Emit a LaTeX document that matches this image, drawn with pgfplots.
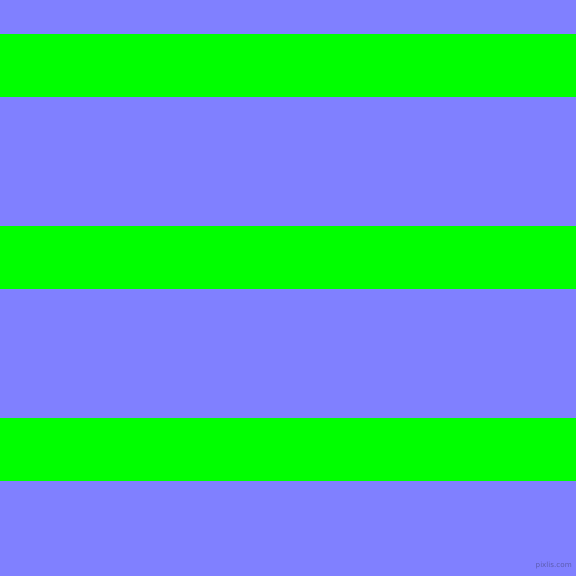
\documentclass[border=0pt]{standalone}
\usepackage{pgfplots}
\pgfplotsset{compat=1.18}
\usepackage{fontspec}
\setmainfont{DejaVu Sans}
\definecolor{bgblue}{HTML}{8080FF}
\definecolor{bandgreen}{HTML}{00FF00}
\definecolor{wmgray}{HTML}{5C5CB0}
\begin{document}
\begin{tikzpicture}
\begin{axis}[
  scale only axis,
  width=8in, height=8in,
  xmin=0, xmax=576, ymin=0, ymax=576,
  y dir=reverse,
  hide axis,
  clip=true,
]
% background
\addplot[draw=none, fill=bgblue] coordinates {(0,0) (576,0) (576,576) (0,576)} -- cycle;
% green bands (pixel rows)
\addplot[draw=none, fill=bandgreen] coordinates {(0,34) (576,34) (576,97) (0,97)} -- cycle;
\addplot[draw=none, fill=bandgreen] coordinates {(0,226) (576,226) (576,289) (0,289)} -- cycle;
\addplot[draw=none, fill=bandgreen] coordinates {(0,418) (576,418) (576,481) (0,481)} -- cycle;
% watermark
\node[anchor=east, text=wmgray, font=\fontsize{7.2}{7.2}\selectfont, inner sep=0pt] at (axis cs:572,565.5) {pixlis.com};
\end{axis}
\end{tikzpicture}
\end{document}
